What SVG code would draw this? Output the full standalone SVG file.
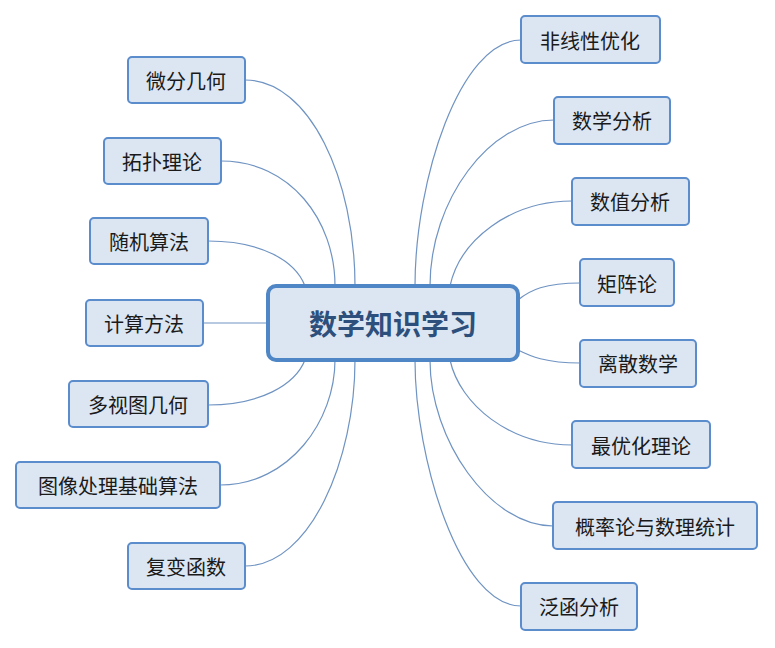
<svg xmlns="http://www.w3.org/2000/svg" width="775" height="648" viewBox="0 0 775 648">
<style>
.n rect{fill:#dce6f2;stroke:#5b8ccc;stroke-width:2}
.n text{font-family:"Noto Sans CJK SC","Noto Sans",sans-serif;font-size:20px;fill:#1a1a1a;text-anchor:middle;dominant-baseline:central}
#conn path{fill:none;stroke:#6f93c2;stroke-width:1.2}
</style>
<rect width="775" height="648" fill="#fff"/>
<g id="conn">
<path d="M245,80 C310,80 355,180 355,286"/>
<path d="M221,161 C290,161 335,220 335,286"/>
<path d="M208,241 C260,241 295,260 305,286"/>
<path d="M203,323 L268,323"/>
<path d="M208,405 C260,405 295,385 305,360"/>
<path d="M220,485 C290,485 335,420 335,360"/>
<path d="M245,566 C310,566 355,460 355,360"/>
<path d="M521,40 C460,40 415,180 415,286"/>
<path d="M554,120 C490,120 430,200 430,286"/>
<path d="M572,201 C510,201 460,240 450,286"/>
<path d="M580,283 C545,283 530,290 518,300"/>
<path d="M580,363 C545,363 530,356 518,350"/>
<path d="M572,445 C510,445 460,405 450,360"/>
<path d="M553,526 C490,526 430,440 430,360"/>
<path d="M521,606 C460,606 415,460 415,360"/>
</g>
<g id="center"><rect x="268" y="286" width="250" height="74" rx="8" fill="#dce6f2" stroke="#4f86c6" stroke-width="4"/>
<text x="393" y="323" font-family="Noto Sans CJK SC,sans-serif" font-size="28" font-weight="bold" fill="#2c4f7c" text-anchor="middle" dominant-baseline="central">数学知识学习</text></g>
<g id="n1" class="n"><rect x="128" y="57" width="117" height="46" rx="4"/><text x="186" y="80">微分几何</text></g>
<g id="n2" class="n"><rect x="104" y="138" width="117" height="46" rx="4"/><text x="162" y="161">拓扑理论</text></g>
<g id="n3" class="n"><rect x="90" y="218" width="118" height="46" rx="4"/><text x="149" y="241">随机算法</text></g>
<g id="n4" class="n"><rect x="86" y="300" width="117" height="46" rx="4"/><text x="144" y="323">计算方法</text></g>
<g id="n5" class="n"><rect x="69" y="381" width="139" height="46" rx="4"/><text x="138" y="404">多视图几何</text></g>
<g id="n6" class="n"><rect x="16" y="462" width="204" height="46" rx="4"/><text x="118" y="485">图像处理基础算法</text></g>
<g id="n7" class="n"><rect x="128" y="543" width="117" height="46" rx="4"/><text x="186" y="566">复变函数</text></g>
<g id="n8" class="n"><rect x="521" y="16" width="139" height="47" rx="4"/><text x="590" y="40">非线性优化</text></g>
<g id="n9" class="n"><rect x="554" y="97" width="116" height="47" rx="4"/><text x="612" y="120">数学分析</text></g>
<g id="n10" class="n"><rect x="572" y="178" width="117" height="47" rx="4"/><text x="630" y="201">数值分析</text></g>
<g id="n11" class="n"><rect x="580" y="259" width="94" height="47" rx="4"/><text x="627" y="283">矩阵论</text></g>
<g id="n12" class="n"><rect x="580" y="340" width="116" height="47" rx="4"/><text x="638" y="363">离散数学</text></g>
<g id="n13" class="n"><rect x="572" y="421" width="138" height="47" rx="4"/><text x="641" y="445">最优化理论</text></g>
<g id="n14" class="n"><rect x="553" y="502" width="204" height="47" rx="4"/><text x="655" y="526">概率论与数理统计</text></g>
<g id="n15" class="n"><rect x="521" y="583" width="116" height="47" rx="4"/><text x="579" y="606">泛函分析</text></g>
</svg>
